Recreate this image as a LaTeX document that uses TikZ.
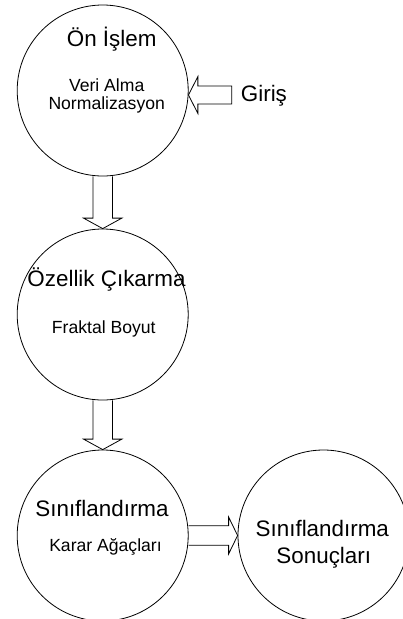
\documentclass[tikz,border=0pt]{standalone}
\usepackage{fontspec}
\setmainfont{Liberation Sans}
\usetikzlibrary{calc}
\begin{document}
\begin{tikzpicture}[x=1pt,y=-1pt,
  circ/.style={draw, circle, minimum size=171pt, inner sep=0pt, line width=0.8pt},
  head/.style={font=\fontsize{22.4}{26}\selectfont, inner sep=0pt, anchor=base},
  sub/.style={font=\fontsize{17.6}{18}\selectfont, inner sep=0pt, anchor=base},
  barrow/.style={draw, line width=0.8pt, line join=miter}]
\useasboundingbox (0,0) rectangle (403,619);
% circles
\node[circ] (c1) at (102.7,90.5) {};
\node[circ] (c2) at (102.7,314.5) {};
\node[circ] (c3) at (102.7,535.5) {};
\node[circ] (c4) at (323.5,535.5) {};
% texts
\node[head] (t1) at (111.7,46.7) {Ön İşlem};
\node[sub] (s1a) at (106.7,91.7) {Veri Alma};
\node[sub] (s1b) at (106.7,109.3) {Normalizasyon};
\node[head, anchor=base west] (giris) at (240.7,101.7) {Giriş};
\node[head] (t2) at (106.5,286.7) {Özellik Çıkarma};
\node[sub] (s2) at (103.8,333.3) {Fraktal Boyut};
\node[head] (t3) at (102,516.7) {Sınıflandırma};
\node[sub] (s3) at (105.5,551.7) {Karar Ağaçları};
\node[head] (t4a) at (322.3,536) {Sınıflandırma};
\node[head] (t4b) at (323.8,563.3) {Sonuçları};
% input arrow
\coordinate (gt) at (c1.-3);
\coordinate (gend) at ($(gt -| giris.west)+(-9,0)$);
\draw[barrow] ($(gend)+(0,-9)$) -- ($(gt)+(9.4,-9)$) -- ($(gt)+(9.4,-18.5)$) -- (gt)
  -- ($(gt)+(9.4,18.5)$) -- ($(gt)+(9.4,9)$) -- ($(gend)+(0,9)$) -- cycle;
% down arrows
\draw[barrow] ($(c1.south)+(-9.7,0)$) -- ($(c2.north)+(-9.7,-10.5)$) -- ($(c2.north)+(-19.2,-10.5)$)
  -- (c2.north) -- ($(c2.north)+(19.2,-10.5)$) -- ($(c2.north)+(9.7,-10.5)$) -- ($(c1.south)+(9.7,0)$);
\draw[barrow] ($(c2.south)+(-9.7,0)$) -- ($(c3.north)+(-9.7,-10.5)$) -- ($(c3.north)+(-19.2,-10.5)$)
  -- (c3.north) -- ($(c3.north)+(19.2,-10.5)$) -- ($(c3.north)+(9.7,-10.5)$) -- ($(c2.south)+(9.7,0)$);
% right arrow
\draw[barrow] ($(c3.east)+(0,-9.7)$) -- ($(c4.west)+(-9,-9.7)$) -- ($(c4.west)+(-9,-18.5)$)
  -- (c4.west) -- ($(c4.west)+(-9,18.5)$) -- ($(c4.west)+(-9,9.7)$) -- ($(c3.east)+(0,9.7)$);
\end{tikzpicture}
\end{document}
